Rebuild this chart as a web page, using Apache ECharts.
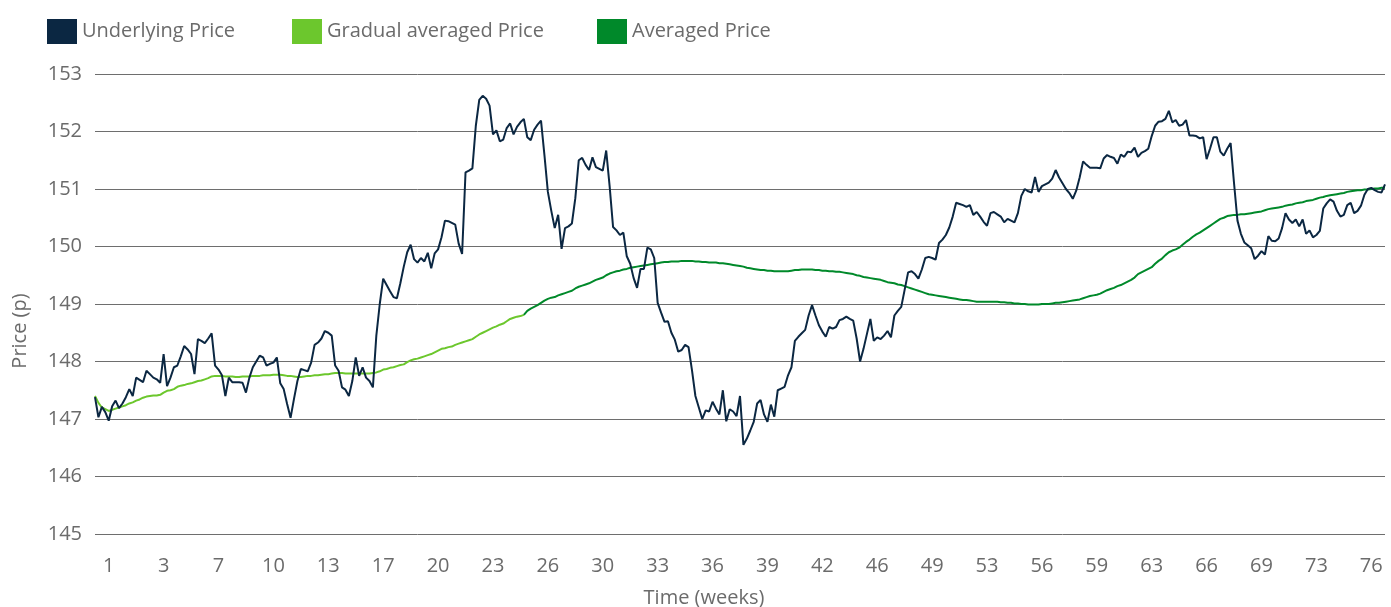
<!DOCTYPE html>
<html>
<head>
<meta charset="utf-8">
<script src="https://cdn.jsdelivr.net/npm/echarts@6/dist/echarts.min.js"></script>
<style>
  html, body { margin: 0; padding: 0; background: #fff; }
  #chart { width: 1391px; height: 607px; }
</style>
</head>
<body>
<div id="chart"></div>
<script>
// 标签：周数
var weekTicks = ['1', '3', '7', '10', '13', '17', '20', '23', '26', '30', '33', '36',
  '39', '42', '46', '49', '53', '56', '59', '63', '66', '69', '73', '76'];
var firstTick = 4;
var tickStep = 16;

var priceTicks = [145, 146, 147, 148, 149, 150, 151, 152, 153];

// 原始价格
var underlying = [
  147.38, 147.03, 147.21, 147.12, 146.97, 147.22, 147.32, 147.19, 147.27, 147.38,
  147.52, 147.40, 147.72, 147.68, 147.64, 147.84, 147.78, 147.72, 147.69, 147.63,
  148.13, 147.57, 147.72, 147.90, 147.93, 148.09, 148.27, 148.21, 148.13, 147.78,
  148.39, 148.36, 148.32, 148.40, 148.49, 147.93, 147.86, 147.76, 147.40, 147.72,
  147.64, 147.64, 147.64, 147.63, 147.46, 147.72, 147.90, 148.00, 148.10, 148.07,
  147.93, 147.96, 147.98, 148.07, 147.62, 147.52, 147.26, 147.02, 147.35, 147.66,
  147.87, 147.85, 147.83, 147.98, 148.29, 148.33, 148.40, 148.53, 148.50, 148.45,
  147.93, 147.84, 147.55, 147.51, 147.40, 147.66, 148.07, 147.75, 147.90, 147.72,
  147.66, 147.55, 148.45, 149.00, 149.44, 149.33, 149.22, 149.12, 149.10, 149.36,
  149.65, 149.90, 150.03, 149.78, 149.72, 149.80, 149.74, 149.89, 149.62, 149.88,
  149.95, 150.16, 150.45, 150.44, 150.41, 150.38, 150.05, 149.87, 151.29, 151.32,
  151.36, 152.10, 152.55, 152.62, 152.57, 152.45, 151.95, 152.02, 151.83, 151.86,
  152.06, 152.14, 151.95, 152.08, 152.16, 152.22, 151.90, 151.85, 152.03, 152.12,
  152.19, 151.59, 150.95, 150.62, 150.32, 150.55, 149.96, 150.32, 150.35, 150.40,
  150.84, 151.50, 151.54, 151.42, 151.33, 151.55, 151.38, 151.35, 151.32, 151.67,
  151.05, 150.34, 150.28, 150.20, 150.24, 149.83, 149.70, 149.45, 149.28, 149.61,
  149.61, 149.98, 149.95, 149.80, 149.02, 148.85, 148.69, 148.70, 148.50, 148.38,
  148.17, 148.20, 148.29, 148.25, 147.85, 147.40, 147.20, 147.00, 147.15, 147.13,
  147.30, 147.18, 147.08, 147.50, 146.96, 147.17, 147.13, 147.05, 147.40, 146.55,
  146.66, 146.80, 146.95, 147.27, 147.33, 147.08, 146.95, 147.25, 147.04, 147.50,
  147.53, 147.56, 147.76, 147.90, 148.36, 148.43, 148.49, 148.55, 148.80, 148.98,
  148.80, 148.63, 148.52, 148.43, 148.60, 148.57, 148.60, 148.72, 148.74, 148.78,
  148.74, 148.71, 148.40, 148.00, 148.22, 148.48, 148.74, 148.36, 148.42, 148.39,
  148.45, 148.53, 148.42, 148.80, 148.88, 148.95, 149.25, 149.55, 149.57, 149.52,
  149.44, 149.60, 149.80, 149.82, 149.80, 149.77, 150.06, 150.12, 150.20, 150.33,
  150.52, 150.76, 150.74, 150.72, 150.69, 150.72, 150.55, 150.60, 150.52, 150.43,
  150.36, 150.58, 150.60, 150.56, 150.52, 150.42, 150.48, 150.45, 150.42, 150.58,
  150.88, 151.00, 150.96, 150.94, 151.21, 150.95, 151.05, 151.08, 151.11, 151.18,
  151.33, 151.20, 151.10, 151.00, 150.93, 150.83, 150.97, 151.20, 151.48, 151.42,
  151.37, 151.37, 151.37, 151.36, 151.53, 151.59, 151.56, 151.54, 151.44, 151.60,
  151.56, 151.65, 151.64, 151.72, 151.56, 151.63, 151.66, 151.70, 151.92, 152.10,
  152.17, 152.18, 152.22, 152.36, 152.16, 152.20, 152.10, 152.12, 152.20, 151.93,
  151.93, 151.92, 151.88, 151.90, 151.52, 151.70, 151.90, 151.90, 151.65, 151.58,
  151.70, 151.80, 151.10, 150.45, 150.22, 150.07, 150.02, 149.97, 149.78, 149.84,
  149.92, 149.86, 150.18, 150.10, 150.09, 150.14, 150.32, 150.58, 150.47, 150.41,
  150.47, 150.35, 150.47, 150.22, 150.28, 150.16, 150.20, 150.27, 150.66, 150.75,
  150.82, 150.78, 150.62, 150.52, 150.55, 150.72, 150.76, 150.58, 150.62, 150.71,
  150.90, 151.00, 151.02, 150.98, 150.95, 150.94, 151.08
];

// 逐步平均价格（前段）
var gradualAvg = [
  147.40, 147.28, 147.20, 147.17, 147.14, 147.16, 147.18, 147.20, 147.22, 147.24,
  147.27, 147.29, 147.32, 147.34, 147.37, 147.39, 147.40, 147.41, 147.41, 147.42,
  147.46, 147.49, 147.50, 147.52, 147.56, 147.58, 147.59, 147.61, 147.62, 147.64,
  147.66, 147.67, 147.69, 147.71, 147.74, 147.75, 147.75, 147.75, 147.74, 147.74,
  147.74, 147.73, 147.73, 147.74, 147.74, 147.74, 147.75, 147.75, 147.75, 147.76,
  147.76, 147.76, 147.77, 147.77, 147.77, 147.76, 147.75, 147.75, 147.74, 147.73,
  147.73, 147.74, 147.75, 147.75, 147.76, 147.76, 147.77, 147.78, 147.78, 147.79,
  147.80, 147.80, 147.80, 147.79, 147.79, 147.79, 147.79, 147.79, 147.79, 147.79,
  147.79, 147.80, 147.81, 147.83, 147.86, 147.87, 147.89, 147.90, 147.92, 147.94,
  147.95, 147.99, 148.02, 148.04, 148.05, 148.07, 148.09, 148.11, 148.13, 148.16,
  148.19, 148.22, 148.23, 148.25, 148.26, 148.29, 148.31, 148.33, 148.35, 148.37,
  148.39, 148.43, 148.47, 148.50, 148.53, 148.56, 148.59, 148.61, 148.64, 148.66,
  148.70, 148.74, 148.76, 148.78, 148.79, 148.81
];

// 平均价格（从逐步平均的最后一点开始）
var averagedPrice = [
  148.81, 148.88, 148.92, 148.95, 148.98,
  149.02, 149.06, 149.09, 149.11, 149.12, 149.15, 149.17, 149.19, 149.21, 149.23,
  149.27, 149.30, 149.32, 149.34, 149.36, 149.39, 149.42, 149.44, 149.46, 149.50,
  149.53, 149.55, 149.57, 149.58, 149.60, 149.61, 149.63, 149.64, 149.65, 149.66,
  149.67, 149.68, 149.69, 149.70, 149.71, 149.72, 149.73, 149.73, 149.74, 149.74,
  149.74, 149.75, 149.75, 149.75, 149.75, 149.74, 149.74, 149.73, 149.73, 149.72,
  149.72, 149.72, 149.71, 149.71, 149.70, 149.69, 149.68, 149.67, 149.66, 149.65,
  149.63, 149.62, 149.61, 149.60, 149.59, 149.59, 149.58, 149.58, 149.57, 149.57,
  149.57, 149.57, 149.57, 149.58, 149.59, 149.59, 149.60, 149.60, 149.60, 149.60,
  149.59, 149.59, 149.58, 149.58, 149.57, 149.57, 149.56, 149.56, 149.55, 149.54,
  149.53, 149.52, 149.50, 149.49, 149.47, 149.46, 149.45, 149.44, 149.43, 149.42,
  149.40, 149.38, 149.37, 149.36, 149.34, 149.33, 149.31, 149.29, 149.27, 149.25,
  149.23, 149.21, 149.19, 149.17, 149.16, 149.15, 149.14, 149.13, 149.12, 149.11,
  149.10, 149.09, 149.08, 149.07, 149.07, 149.06, 149.05, 149.04, 149.04, 149.04,
  149.04, 149.04, 149.04, 149.04, 149.03, 149.03, 149.02, 149.02, 149.01, 149.01,
  149.00, 149.00, 148.99, 148.99, 148.99, 148.99, 149.00, 149.00, 149.00, 149.01,
  149.02, 149.02, 149.03, 149.04, 149.05, 149.06, 149.07, 149.08, 149.10, 149.12,
  149.14, 149.15, 149.16, 149.18, 149.21, 149.24, 149.26, 149.28, 149.31, 149.33,
  149.36, 149.39, 149.42, 149.46, 149.52, 149.55, 149.58, 149.61, 149.64, 149.70,
  149.75, 149.79, 149.85, 149.90, 149.93, 149.95, 149.98, 150.03, 150.08, 150.12,
  150.17, 150.21, 150.24, 150.28, 150.32, 150.36, 150.40, 150.44, 150.48, 150.50,
  150.53, 150.54, 150.55, 150.55, 150.56, 150.56, 150.57, 150.58, 150.59, 150.60,
  150.61, 150.63, 150.65, 150.66, 150.67, 150.68, 150.69, 150.71, 150.72, 150.73,
  150.75, 150.76, 150.77, 150.79, 150.80, 150.81, 150.83, 150.85, 150.86, 150.88,
  150.89, 150.90, 150.91, 150.92, 150.93, 150.95, 150.96, 150.97, 150.98, 150.98,
  150.99, 150.99, 151.00, 151.01, 151.01, 151.02, 151.02
];

var seriesNames = ['Underlying Price', 'Gradual averaged Price', 'Averaged Price'];
var seriesColors = ['#0b2742', '#6cc72d', '#00892a'];

(function () {
  var chart = echarts.init(document.getElementById('chart'));
  var textColor = '#6b6b6b';
  var font = '"Open Sans", "DejaVu Sans", sans-serif';

  // x轴类目：只有刻度位置有文字
  var categories = underlying.map(function (v, i) {
    var k = (i - firstTick) / tickStep;
    return (k >= 0 && k % 1 === 0 && weekTicks[k] !== undefined) ? weekTicks[k] : '';
  });

  var avgStart = gradualAvg.length - 1;
  var avgData = [];
  for (var i = 0; i < avgStart; i++) avgData.push(null);
  avgData = avgData.concat(averagedPrice);

  function legendAt(left, name) {
    return {
      left: left,
      top: 19,
      padding: 0,
      itemWidth: 30,
      itemHeight: 25,
      itemGap: 0,
      icon: 'rect',
      selectedMode: false,
      data: [name],
      textStyle: { color: textColor, fontSize: 20, fontFamily: font }
    };
  }

  var option = {
    backgroundColor: '#fff',
    animation: false,
    color: seriesColors,
    legend: [
      legendAt(47, seriesNames[0]),
      legendAt(292, seriesNames[1]),
      legendAt(597, seriesNames[2])
    ],
    grid: { left: 95, right: 6, top: 74, bottom: 73, containLabel: false, outerBoundsMode: 'none' },
    xAxis: {
      type: 'category',
      boundaryGap: false,
      data: categories,
      name: 'Time (weeks)',
      nameLocation: 'middle',
      nameGap: 54,
      nameTextStyle: { color: textColor, fontSize: 20, fontFamily: font, padding: [0, 72, 0, 0] },
      axisLine: { show: false },
      axisTick: { show: false },
      axisLabel: { interval: 0, color: textColor, fontSize: 20, fontFamily: font, margin: 22 },
      splitLine: { show: false }
    },
    yAxis: {
      type: 'value',
      min: priceTicks[0],
      max: priceTicks[priceTicks.length - 1],
      interval: 1,
      name: 'Price (p)',
      nameLocation: 'middle',
      nameGap: 65,
      nameRotate: 90,
      nameTextStyle: { color: textColor, fontSize: 20, fontFamily: font, padding: [0, 54, 0, 0] },
      axisLine: { show: false },
      axisTick: { show: false },
      axisLabel: { color: textColor, fontSize: 20, fontFamily: font, margin: 13 },
      splitLine: { lineStyle: { color: '#6e6e6e', width: 1 } }
    },
    series: [{
      name: seriesNames[1],
      type: 'line',
      data: gradualAvg,
      showSymbol: false,
      lineStyle: { color: seriesColors[1], width: 2 },
      itemStyle: { color: seriesColors[1] },
      z: 2
    }, {
      name: seriesNames[2],
      type: 'line',
      data: avgData,
      showSymbol: false,
      lineStyle: { color: seriesColors[2], width: 2 },
      itemStyle: { color: seriesColors[2] },
      z: 2
    }, {
      name: seriesNames[0],
      type: 'line',
      data: underlying,
      showSymbol: false,
      lineStyle: { color: seriesColors[0], width: 2 },
      itemStyle: { color: seriesColors[0] },
      z: 3
    }]
  };
  chart.setOption(option);
})();
</script>
</body>
</html>
